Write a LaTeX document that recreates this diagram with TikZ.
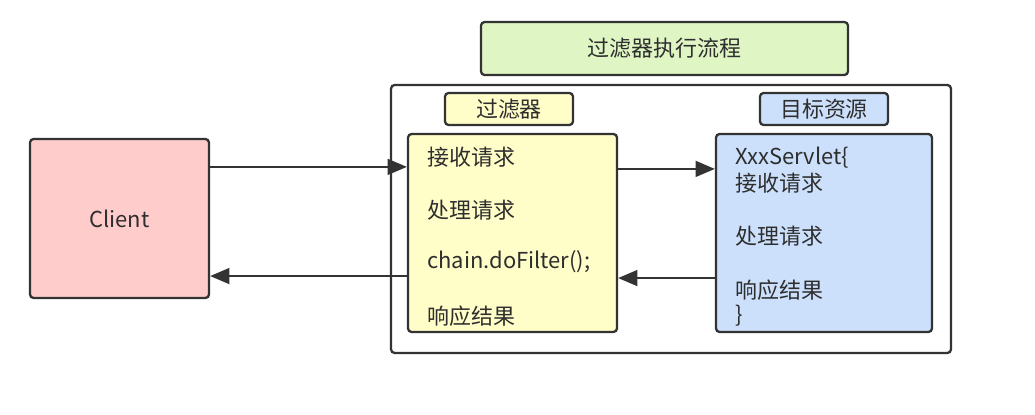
\documentclass[tikz,border=0pt]{standalone}
\usepackage{fontspec}
\setmainfont{Noto Sans CJK SC}
\usepackage{xcolor}
\usetikzlibrary{arrows.meta,calc}

\definecolor{edgegray}{HTML}{333333}
\definecolor{clientred}{HTML}{FFCCCC}
\definecolor{titlegreen}{HTML}{DFF5C4}
\definecolor{filteryellow}{HTML}{FFFDC8}
\definecolor{servletblue}{HTML}{CCE0FC}

\begin{document}
\begin{tikzpicture}[x=0.02cm, y=-0.02cm,
    box/.style={draw=edgegray, line width=1.3pt, rounded corners=2pt, inner sep=0pt},
    txt/.style={font=\fontsize{12.5}{14}\selectfont, text=edgegray!90!black, inner sep=0pt},
    flow/.style={-{Triangle[length=11pt,width=9pt]}, line width=1.3pt, draw=edgegray}]
    \useasboundingbox (0,0) rectangle (1035,415);

    % Client
    \node[box, fill=clientred, minimum width=3.58cm, minimum height=3.18cm] (client) at (119.5,218.5) {};
    \node[txt] (clienttext) at (119.5,218.5) {Client};

    % Title
    \node[box, fill=titlegreen, minimum width=7.34cm, minimum height=1.06cm] (title) at (664.5,48.5) {};
    \node[txt] (titletext) at (664.5,48.5) {过滤器执行流程};

    % Outer frame
    \node[box, fill=white, minimum width=11.2cm, minimum height=5.36cm] (frame) at (671,219) {};

    % Labels
    \node[box, fill=filteryellow, minimum width=2.56cm, minimum height=0.64cm] (filterlabel) at (509,109) {};
    \node[txt] at (filterlabel) {过滤器};
    \node[box, fill=servletblue, minimum width=2.56cm, minimum height=0.64cm] (targetlabel) at (824,109) {};
    \node[txt] at (targetlabel) {目标资源};

    % Filter
    \node[box, fill=filteryellow, minimum width=4.18cm, minimum height=3.96cm] (filter) at (512.5,233) {};
    \node[txt, anchor=west] (f1) at (427,157) {接收请求};
    \node[txt, anchor=west] (f2) at (427,210) {处理请求};
    \node[txt, anchor=west] (f3) at (427,262) {chain.doFilter();};
    \node[txt, anchor=west] (f4) at (427,316) {响应结果};

    % Servlet
    \node[box, fill=servletblue, minimum width=4.32cm, minimum height=3.96cm] (servlet) at (824,233) {};
    \node[txt, anchor=west] (s1) at (735,158) {XxxServlet\{};
    \node[txt, anchor=west] (s2) at (735,183) {接收请求};
    \node[txt, anchor=west] (s3) at (735,236) {处理请求};
    \node[txt, anchor=west] (s4) at (735,290) {响应结果};
    \node[txt, anchor=west] (s5) at (735,316) {\}};

    % Arrows
    \draw[flow] ($(client.north east)!0.18!(client.south east)$) coordinate (c1) -- (c1 -| filter.west);
    \draw[flow] ($(filter.north west)!0.715!(filter.south west)$) coordinate (c2) -- (c2 -| client.east);
    \draw[flow] ($(filter.north east)!0.18!(filter.south east)$) coordinate (c3) -- (c3 -| servlet.west);
    \draw[flow] ($(servlet.north west)!0.725!(servlet.south west)$) coordinate (c4) -- (c4 -| filter.east);
\end{tikzpicture}
\end{document}
